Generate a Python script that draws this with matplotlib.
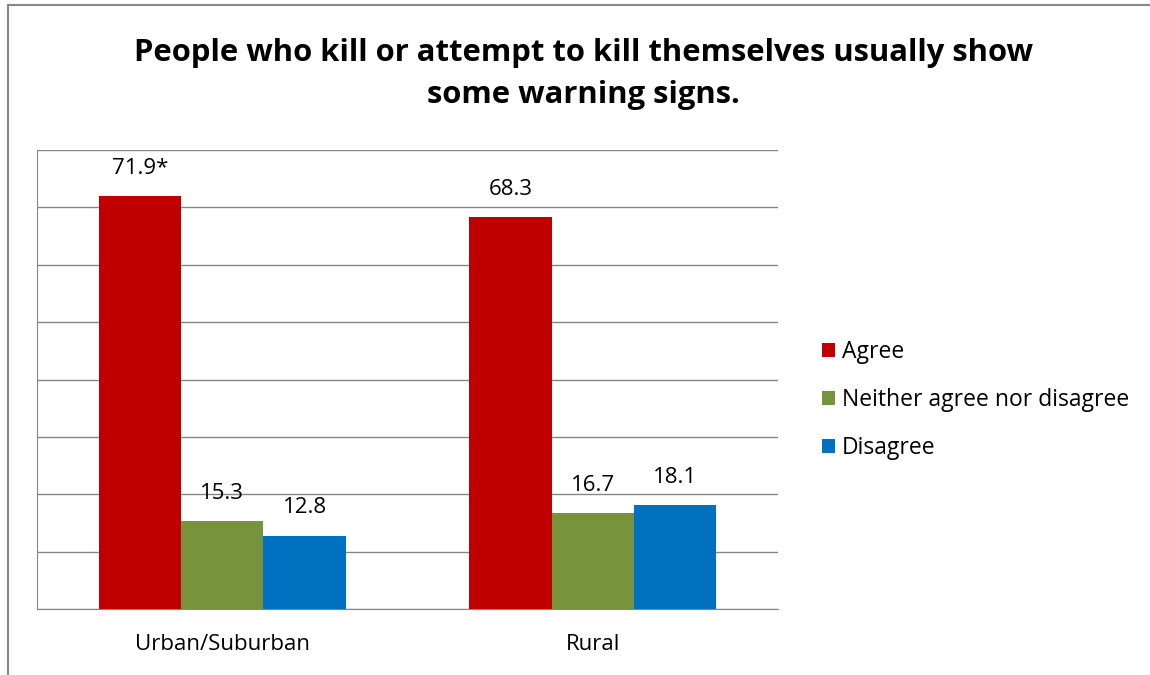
import numpy as np
import matplotlib
matplotlib.use('Agg')
import matplotlib.pyplot as plt
from matplotlib.lines import Line2D
from matplotlib.patches import Patch

plt.rcParams['font.family'] = ['Open Sans', 'DejaVu Sans']

categories = ['Urban/Suburban', 'Rural']
series = ['Agree', 'Neither agree nor disagree', 'Disagree']
values = [
    [71.9, 68.3],
    [15.3, 16.7],
    [12.8, 18.1],
]
labels = [
    ['71.9*', '68.3'],
    ['15.3', '16.7'],
    ['12.8', '18.1'],
]
colors = ['#C00000', '#77933C', '#0070C0']

fig = plt.figure(figsize=(11.5, 6.75), dpi=100)
ax = fig.add_axes([37 / 1150, 1 - 609 / 675, (778 - 37) / 1150, (609 - 150) / 675])

x = np.arange(len(categories))
w = 2 / 9
for i, (s, vals) in enumerate(zip(series, values)):
    xs = x + (i - 1) * w
    ax.bar(xs, vals, width=w, color=colors[i], label=s, zorder=3)
    for xi, v, lab in zip(xs, vals, labels[i]):
        ax.text(xi, v + 4.9, lab, ha='center', va='center', fontsize=16, color='black')

ax.set_xlim(-0.5, 1.5)
ax.set_ylim(0, 80)
ax.set_yticks(np.arange(0, 81, 10))
ax.set_yticklabels([])
ax.tick_params(axis='y', length=0)
ax.tick_params(axis='x', length=0, pad=18, labelsize=16)
ax.set_xticks(x)
ax.set_xticklabels(categories)
ax.grid(axis='y', color='#868686', linewidth=1, zorder=0)
ax.spines['right'].set_visible(False)
ax.spines['top'].set_visible(False)
ax.spines['left'].set_color('#868686')
ax.spines['bottom'].set_color('#868686')

fig.text(583 / 1150, 1 - 74 / 675, 'People who kill or attempt to kill themselves usually show\nsome warning signs.',
         ha='center', va='center', fontsize=22.3, fontweight='bold', linespacing=1.5)

handles = [Patch(facecolor=c, edgecolor='none') for c in colors]
fig.legend(handles, series, loc='center left', bbox_to_anchor=(801 / 1150, 1 - 400 / 675),
           frameon=False, fontsize=16.5, handlelength=0.6, handleheight=0.6,
           handletextpad=0.3, labelspacing=1.05)

# outer border (top and left only)
fig.add_artist(Line2D([8 / 1150, 1], [1 - 5 / 675, 1 - 5 / 675], color='#888888', linewidth=1.5))
fig.add_artist(Line2D([8 / 1150, 8 / 1150], [0, 1 - 5 / 675], color='#888888', linewidth=1.5))

fig.savefig('out.png', dpi=100)
